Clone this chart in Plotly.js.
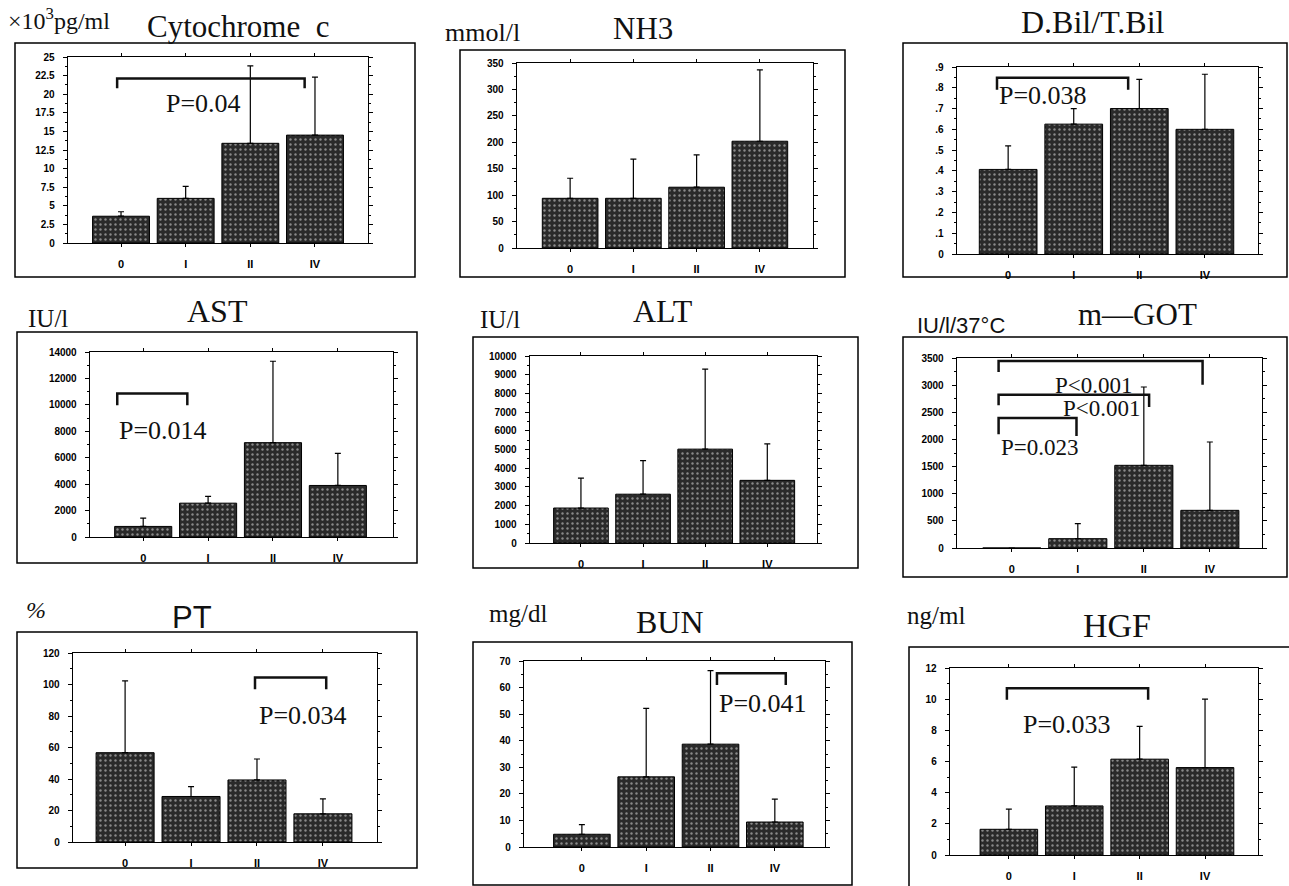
<!DOCTYPE html>
<html>
<head>
<meta charset="utf-8">
<script src="https://cdn.plot.ly/plotly-3.0.1.min.js"></script>
<style>html,body{margin:0;padding:0;background:#fff;}#chart{width:1289px;height:886px;}</style>
</head>
<body>
<div id="chart"></div>
<script>
// ---------- data ----------
const categories = ['0', 'I', 'II', 'IV'];

const cytoMean = [3.6, 6.0, 13.4, 14.5];
const cytoTop  = [4.2, 7.6, 23.8, 22.3];
const nh3Mean  = [94, 94, 115, 202];
const nh3Top   = [132, 168, 176, 337];
const dbilMean = [0.407, 0.625, 0.70, 0.60];
const dbilTop  = [0.52, 0.70, 0.84, 0.865];
const astMean  = [800, 2560, 7140, 3900];
const astTop   = [1430, 3070, 13300, 6330];
const altMean  = [1870, 2610, 5020, 3350];
const altTop   = [3470, 4410, 9300, 5300];
const gotMean  = [0, 172, 1523, 694];
const gotTop   = [0, 448, 2966, 1953];
const ptMean   = [56.7, 28.9, 39.4, 17.9];
const ptTop    = [102.3, 35.2, 52.7, 27.4];
const bunMean  = [4.8, 26.4, 38.7, 9.4];
const bunTop   = [8.4, 52.2, 66.4, 18.0];
const hgfMean  = [1.65, 3.15, 6.15, 5.61];
const hgfTop   = [2.94, 5.64, 8.25, 10.0];

const cytoTicks = ['0','2.5','5','7.5','10','12.5','15','17.5','20','22.5','25'];
const nh3Ticks  = ['0','50','100','150','200','250','300','350'];
const dbilTicks = ['0','.1','.2','.3','.4','.5','.6','.7','.8','.9'];
const astTicks  = ['0','2000','4000','6000','8000','10000','12000','14000'];
const altTicks  = ['0','1000','2000','3000','4000','5000','6000','7000','8000','9000','10000'];
const gotTicks  = ['0','500','1000','1500','2000','2500','3000','3500'];
const ptTicks   = ['0','20','40','60','80','100','120'];
const bunTicks  = ['0','10','20','30','40','50','60','70'];
const hgfTicks  = ['0','2','4','6','8','10','12'];

const titles = ['Cytochrome\u00a0\u00a0c', 'NH3', 'D.Bil/T.Bil', 'AST', 'ALT', 'm\u2014GOT', 'PT', 'BUN', 'HGF'];
const units  = ['×10<sup>3</sup>pg/ml', 'mmol/l', '', 'IU/l', 'IU/l', 'IU/l/37°C', '%', 'mg/dl', 'ng/ml'];

// significance brackets: panel, from, to, level, left end, right end, label, label x, label y
const brackets = [
  [1, -0.06, 2.84, 22.1, 20.8, 20.8, 'P=0.04', 1.27, 18.75],
  [3, -0.17, 1.83, 0.848, 0.79, 0.79, 'P=0.038', 0.53, 0.764],
  [4, -0.40, 0.68, 10856, 9977, 9977, 'P=0.014', 0.31, 8092],
  [6, -0.20, 2.89, 3445, 3242, 3009, 'P<0.001', 1.24, 2996],
  [6, -0.20, 2.08, 2824, 2628, 2597, 'P<0.001', 1.36, 2566],
  [6, -0.20, 0.98, 2395, 2094, 2063, 'P=0.023', 0.42, 1848],
  [7, 1.97, 3.05, 104.4, 97, 97, 'P=0.034', 2.70, 80.6],
  [8, 2.10, 3.17, 65.4, 61, 61, 'P=0.041', 2.81, 54],
  [9, -0.03, 2.13, 10.7, 9.97, 9.97, 'P=0.033', 0.89, 8.36]
];

// ---------- layout geometry (pixels) ----------
const W = 1289, H = 886;
const px = x => x / W;
const py = y => 1 - y / H;

const panels = [
  {mean: cytoMean, top: cytoTop, ticks: cytoTicks, step: 2.5, ymax: 25,
   box: [15, 43, 415, 277], plot: [68, 57, 368, 243], xr: [-0.82, 3.82],
   unitPos: [6, 19], titlePos: [238, 27], unitSize: 24, titleSize: 31},
  {mean: nh3Mean, top: nh3Top, ticks: nh3Ticks, step: 50, ymax: 350,
   box: [460, 50, 845, 277], plot: [517, 63, 813, 248], xr: [-0.84, 3.84],
   unitPos: [443, 32], titlePos: [643, 29], unitSize: 26, titleSize: 31},
  {mean: dbilMean, top: dbilTop, ticks: dbilTicks, step: 0.1, ymax: 0.9,
   box: [903, 43, 1287, 277], plot: [957, 67, 1258, 254], xr: [-0.78, 3.81],
   unitPos: [903, 20], titlePos: [1093, 22], unitSize: 24, titleSize: 32},
  {mean: astMean, top: astTop, ticks: astTicks, step: 2000, ymax: 14000,
   box: [17, 332, 417, 563], plot: [90, 352, 393, 537], xr: [-0.82, 3.85],
   unitPos: [26, 318], titlePos: [217, 311], unitSize: 25, titleSize: 32},
  {mean: altMean, top: altTop, ticks: altTicks, step: 1000, ymax: 10000,
   box: [473, 337, 858, 568], plot: [530, 356, 817, 543], xr: [-0.82, 3.80],
   unitPos: [478, 320], titlePos: [663, 311], unitSize: 25, titleSize: 32},
  {mean: gotMean, top: gotTop, ticks: gotTicks, step: 500, ymax: 3500,
   box: [903, 337, 1287, 577], plot: [957, 358, 1262, 548], xr: [-0.83, 3.79],
   unitPos: [915, 325], titlePos: [1137, 315], unitSize: 22, titleSize: 31, unitSans: true},
  {mean: ptMean, top: ptTop, ticks: ptTicks, step: 20, ymax: 120,
   box: [17, 632, 417, 868], plot: [73, 653, 377, 842], xr: [-0.79, 3.82],
   unitPos: [24, 610], titlePos: [192, 617], unitSize: 24, titleSize: 31, titleSans: true, unitItalic: true},
  {mean: bunMean, top: bunTop, ticks: bunTicks, step: 10, ymax: 70,
   box: [473, 642, 852, 885], plot: [524, 661, 825, 847], xr: [-0.90, 3.78],
   unitPos: [487, 613], titlePos: [670, 622], unitSize: 25, titleSize: 32},
  {mean: hgfMean, top: hgfTop, ticks: hgfTicks, step: 2, ymax: 12,
   box: [909, 647, 1295, 895], plot: [950, 668, 1258, 855], xr: [-0.90, 3.81],
   unitPos: [905, 615], titlePos: [1117, 625], unitSize: 25, titleSize: 34}
];

const SERIF = 'Liberation Serif, Times New Roman, serif';
const SANS = 'Liberation Sans, Arial, sans-serif';

const data = [];
const layout = {
  width: W, height: H,
  margin: {l: 0, r: 0, t: 0, b: 0},
  paper_bgcolor: '#fff', plot_bgcolor: '#fff',
  showlegend: false,
  annotations: [], shapes: []
};

panels.forEach((p, i) => {
  const k = i + 1;
  const xs = k === 1 ? '' : String(k);
  const xId = 'x' + xs, yId = 'y' + xs;
  const xvals = categories.map((c, j) => j);
  const tickv = p.ticks.map((t, j) => +(j * p.step).toFixed(6));

  data.push({
    type: 'bar', x: xvals, y: p.mean, width: 0.88,
    xaxis: xId, yaxis: yId, hoverinfo: 'skip',
    marker: {
      color: '#2a2a2a',
      line: {color: '#000', width: 1},
      pattern: {shape: '.', fgcolor: '#8a8a8a', bgcolor: '#2a2a2a', size: 5, solidity: 0.18}
    },
    error_y: {
      type: 'data', symmetric: false,
      array: p.top.map((t, j) => Math.max(0, t - p.mean[j])),
      arrayminus: p.mean.map(() => 0),
      color: '#000', thickness: 1.2, width: 3, visible: true
    }
  });

  layout['xaxis' + xs] = {
    domain: [px(p.plot[0]), px(p.plot[2])], range: p.xr, anchor: yId,
    tickmode: 'array', tickvals: xvals, ticktext: categories,
    showline: true, linecolor: '#000', linewidth: 1.3, mirror: 'ticks',
    ticks: 'outside', ticklen: 3, tickcolor: '#000', tickwidth: 1,
    ticklabelstandoff: 7,
    tickfont: {family: SANS, size: 11, color: '#000', weight: 'bold'},
    showgrid: false, zeroline: false, fixedrange: true
  };
  layout['yaxis' + xs] = {
    domain: [py(p.plot[3]), py(p.plot[1])], range: [0, p.ymax], anchor: xId,
    tickmode: 'array', tickvals: tickv, ticktext: p.ticks,
    showline: true, linecolor: '#000', linewidth: 1.3, mirror: 'ticks',
    ticks: 'outside', ticklen: 4, tickcolor: '#000', tickwidth: 1,
    minor: {tickmode: 'linear', tick0: 0, dtick: p.step / 2, ticks: 'outside', ticklen: 2, tickcolor: '#000'},
    ticklabelstandoff: 6,
    tickfont: {family: SANS, size: 10, color: '#000', weight: 'bold'},
    showgrid: false, zeroline: false, fixedrange: true
  };

  // panel frame
  layout.shapes.push({
    type: 'rect', xref: 'paper', yref: 'paper',
    x0: px(p.box[0]), x1: px(p.box[2]), y0: py(p.box[3]), y1: py(p.box[1]),
    line: {color: '#000', width: 1.5}, fillcolor: 'rgba(0,0,0,0)', layer: 'below'
  });

  // title
  layout.annotations.push({
    xref: 'paper', yref: 'paper', x: px(p.titlePos[0]), y: py(p.titlePos[1]),
    xanchor: 'center', yanchor: 'middle', showarrow: false, text: titles[i],
    font: {family: p.titleSans ? SANS : SERIF, size: p.titleSize, color: '#111'}
  });
  if (units[i]) {
    layout.annotations.push({
      xref: 'paper', yref: 'paper', x: px(p.unitPos[0]), y: py(p.unitPos[1]),
      xanchor: 'left', yanchor: 'middle', showarrow: false,
      text: p.unitItalic ? '<i>' + units[i] + '</i>' : units[i],
      font: {family: p.unitSans ? SANS : SERIF, size: p.unitSize, color: '#111'}
    });
  }
});

brackets.forEach(b => {
  const k = b[0];
  const xs = k === 1 ? '' : String(k);
  layout.shapes.push({
    type: 'path', xref: 'x' + xs, yref: 'y' + xs,
    path: 'M ' + b[1] + ',' + b[4] + ' L ' + b[1] + ',' + b[3] + ' L ' + b[2] + ',' + b[3] + ' L ' + b[2] + ',' + b[5],
    line: {color: '#111', width: 2.5}
  });
  layout.annotations.push({
    xref: 'x' + xs, yref: 'y' + xs, x: b[7], y: b[8],
    xanchor: 'center', yanchor: 'middle', showarrow: false, text: b[6],
    font: {family: SERIF, size: k === 6 ? 23 : 26, color: '#111'}
  });
});

Plotly.newPlot('chart', data, layout, {staticPlot: true, displayModeBar: false});
</script>
</body>
</html>
